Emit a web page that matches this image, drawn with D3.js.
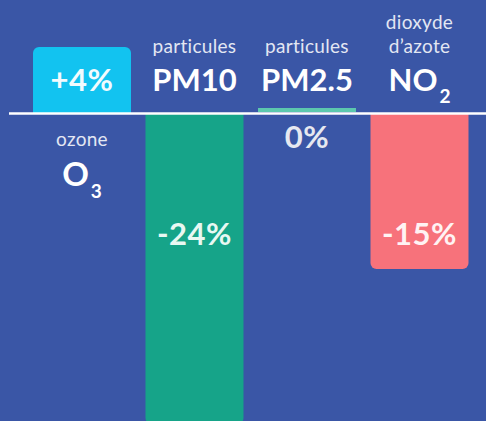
<!DOCTYPE html>
<html><head><meta charset="utf-8">
<script src="https://cdn.jsdelivr.net/npm/d3@7"></script>
<style>html,body{margin:0;padding:0;background:#3A56A6;overflow:hidden}</style>
</head><body>
<script>
const pollutants = ["O3", "PM10", "PM2.5", "NO2"];
const formulaMain = ["O", "PM10", "PM2.5", "NO"];
const formulaSub = ["3", "", "", "2"];
const nameLines = [["ozone"], ["particules"], ["particules"], ["dioxyde", "d’azote"]];
const changes = [4, -24, 0, -15];
const valueLabels = ["+4%", "-24%", "0%", "-15%"];
const colors = ["#12C3F0", "#16A489", "#5CC8AE", "#F7727B"];

const W = 486, H = 421;
const svg = d3.select("body").append("svg").attr("width", W).attr("height", H);
svg.append("rect").attr("width", W).attr("height", H).attr("fill", "#3A56A6");

const x = d3.scaleBand().domain(pollutants).range([25.75, 475.75]).paddingInner(0.129).paddingOuter(0.0645);
const y = d3.scaleLinear().domain([-24, -15, 0, 4]).range([424, 269, 113.5, 47]);
const y0 = y(0);
const r = 6;

function barPath(px, w, top, bottom, roundTop) {
  const p = d3.path();
  if (roundTop) {
    p.moveTo(px, bottom);
    p.lineTo(px, top + r);
    p.arcTo(px, top, px + r, top, r);
    p.lineTo(px + w - r, top);
    p.arcTo(px + w, top, px + w, top + r, r);
    p.lineTo(px + w, bottom);
    p.closePath();
  } else {
    p.moveTo(px, top);
    p.lineTo(px, bottom - r);
    p.arcTo(px, bottom, px + r, bottom, r);
    p.lineTo(px + w - r, bottom);
    p.arcTo(px + w, bottom, px + w, bottom - r, r);
    p.lineTo(px + w, top);
    p.closePath();
  }
  return p.toString();
}

const data = pollutants.map((k, i) => ({k, i, v: changes[i]}));

// bars
svg.selectAll("path.bar").data(data.filter(d => d.v !== 0)).join("path")
  .attr("class", "bar")
  .attr("fill", d => colors[d.i])
  .attr("d", d => d.v > 0
    ? barPath(x(d.k), x.bandwidth(), y(d.v), y0, true)
    : barPath(x(d.k), x.bandwidth(), y0, y(d.v), false));

// zero marker
svg.selectAll("rect.zero").data(data.filter(d => d.v === 0)).join("rect")
  .attr("class", "zero")
  .attr("fill", d => colors[d.i])
  .attr("x", d => x(d.k)).attr("width", x.bandwidth())
  .attr("y", y0 - 5.5).attr("height", 4);

// baseline
svg.append("line").attr("x1", 9).attr("x2", W).attr("y1", y0).attr("y2", y0)
  .attr("stroke", "#ffffff").attr("stroke-width", 2.5);

const font = "Lato, 'Open Sans', sans-serif";
const g = svg.append("g").attr("font-family", font).attr("text-anchor", "middle");

data.forEach(d => {
  const cx = x(d.k) + x.bandwidth() / 2;
  const pos = d.v > 0;
  // name + formula
  const nameBase = pos ? y0 + 32 : 53;
  const lines = nameLines[d.i];
  lines.forEach((t, j) => {
    g.append("text").attr("x", cx).attr("y", nameBase - (lines.length - 1 - j) * 24.5)
      .attr("fill", "#E3E7F3").attr("font-size", 19).attr("letter-spacing", 0.3).text(t);
  });
  const fBase = pos ? y0 + 72 : 91;
  const ft = g.append("text").attr("x", cx).attr("y", fBase)
    .attr("fill", "#FFFFFF").attr("font-size", 31).attr("font-weight", 700);
  ft.append("tspan").attr("font-size", pos ? 33 : 31).text(formulaMain[d.i]);
  if (formulaSub[d.i]) {
    ft.append("tspan").attr("font-size", 19).attr("dy", 12).attr("dx", 2).text(formulaSub[d.i]);
  }
  // value label
  let vBase, vCol;
  if (pos) { vBase = y0 - 23; vCol = "#F2FBFE"; }
  else if (d.v === 0) { vBase = y0 + 34.5; vCol = "#E6E8F0"; }
  else { vBase = y0 + 131; vCol = d.i === 1 ? "#E8F8F2" : "#FFF3F3"; }
  g.append("text").attr("x", cx).attr("y", vBase)
    .attr("fill", vCol).attr("font-size", 31).attr("font-weight", 700).attr("letter-spacing", 0.5).text(valueLabels[d.i]);
});
</script>
</body></html>
